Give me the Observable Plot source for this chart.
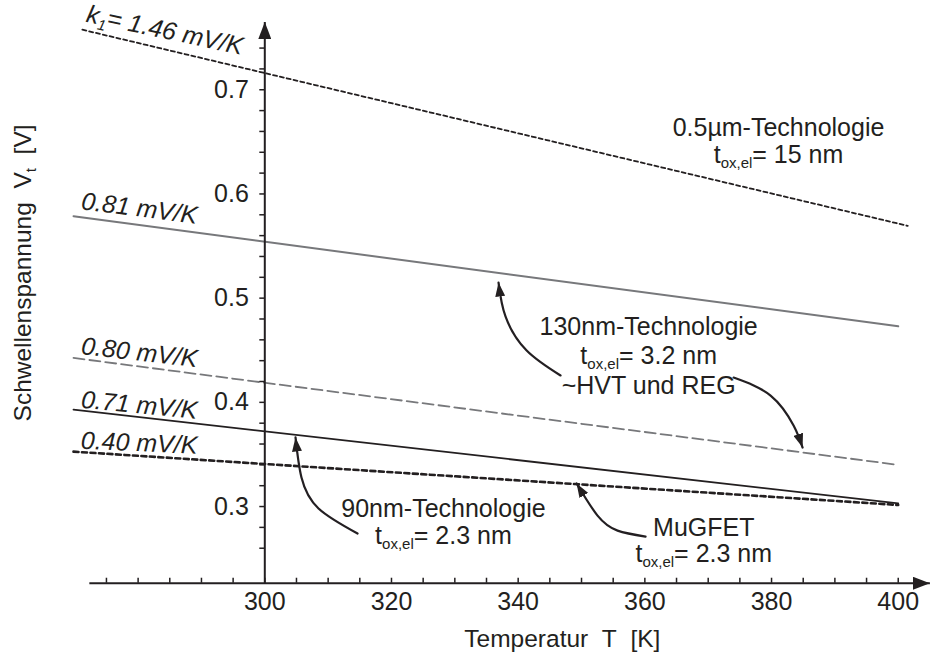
<!DOCTYPE html>
<html>
<head>
<meta charset="utf-8">
<script src="https://cdn.jsdelivr.net/npm/d3@7"></script>
<script src="https://cdn.jsdelivr.net/npm/@observablehq/plot@0.6"></script>
<style>
  html, body { margin: 0; padding: 0; background: #fff; }
  #chart svg { display: block; }
</style>
</head>
<body>
<div id="chart"></div>
<script>
// ---------------- data ----------------
const technologies = ["0.5µm-Technologie", "130nm HVT", "130nm REG", "90nm-Technologie", "MuGFET"];
const tempStart = [271.2, 269.8, 269.8, 269.8, 269.8];   // K
const tempEnd   = [401.5, 400, 400, 400, 400];           // K
const vtStart   = [0.7576, 0.5787, 0.4426, 0.3930, 0.3527]; // V
const vtEnd     = [0.5694, 0.4730, 0.3400, 0.3031, 0.3015]; // V
const slopeLabels = ["k_{1}= 1.46 mV/K", "0.81 mV/K", "0.80 mV/K", "0.71 mV/K", "0.40 mV/K"];

const xTickValues = [300, 320, 340, 360, 380, 400];
const xTickLabels = ["300", "320", "340", "360", "380", "400"];
const xMinorTicks = [275, 280, 285, 290, 295, 300, 305, 310, 315, 320, 325, 330, 335, 340, 345,
                     350, 355, 360, 365, 370, 375, 380, 385, 390, 395, 400];
const yTickValues = [0.3, 0.4, 0.5, 0.6, 0.7];
const yTickLabels = ["0.3", "0.4", "0.5", "0.6", "0.7"];
const yMinorTicks = [0.26, 0.28, 0.30, 0.32, 0.34, 0.36, 0.38, 0.40, 0.42, 0.44, 0.46, 0.48, 0.50,
                     0.52, 0.54, 0.56, 0.58, 0.60, 0.62, 0.64, 0.66, 0.68, 0.70, 0.72, 0.74];

const xTitle = "Temperatur\u00A0\u00A0T\u00A0\u00A0[K]";
const yTitle = "Schwellenspannung\u00A0\u00A0V_{t}\u00A0\u00A0[V]";

// axis geometry (data units)
const axisCrossT = 300;      // y-axis drawn at T = 300 K
const axisCrossV = 0.2264;   // x-axis drawn at this Vt
const xAxisFrom = 272.3, xAxisTo = 405;
const yAxisTo = 0.765;

// annotation texts and anchors (data units)
const notes = [
  {text: "0.5µm-Technologie\nt_{ox,el}= 15 nm", T: 381.1, V: 0.6293, lh: 1.08},
  {text: "130nm-Technologie\nt_{ox,el}= 3.2 nm\n~HVT und REG", T: 360.6, V: 0.4083, lh: 1.17},
  {text: "90nm-Technologie\nt_{ox,el}= 2.3 nm", T: 328.2, V: 0.2643, lh: 1.05},
  {text: "MuGFET\nt_{ox,el}= 2.3 nm", T: 369.3, V: 0.2466, lh: 1.03}
];
// curved pointer arrows (data units)
const pointerArrows = [
  {id: "a1", pts: [[346.69, 0.4258], [341.30, 0.4500], [338.00, 0.4824], [336.90, 0.5150]]},
  {id: "a2", pts: [[374.01, 0.4238], [379.85, 0.4065], [383.48, 0.3777], [384.90, 0.3566]]},
  {id: "a3", pts: [[314.64, 0.2741], [308.48, 0.2981], [305.79, 0.3278], [304.85, 0.3663]]},
  {id: "a4", pts: [[360.11, 0.2712], [355.69, 0.2769], [352.53, 0.2913], [349.22, 0.3221]]}
];

// ---------------- styles ----------------
const ink = "#231f20";
const axisInk = "#231f21";    // distinct tag colours so arrowheads can be attached
const pointerInk = "#231f22";
const gray = "#77787b";
const lineStyles = [
  {stroke: ink,  strokeWidth: 1.8, strokeDasharray: "4,3"},
  {stroke: gray, strokeWidth: 2.0, strokeDasharray: null},
  {stroke: gray, strokeWidth: 1.8, strokeDasharray: "11,5"},
  {stroke: ink,  strokeWidth: 1.8, strokeDasharray: null},
  {stroke: ink,  strokeWidth: 2.6, strokeDasharray: "5,3.5"}
];
const labelStyles = [
  {rotate: 12,  dx: 3, dy: -8},
  {rotate: 7.2, dx: 7, dy: -7},
  {rotate: 6.5, dx: 7, dy: -4},
  {rotate: 5.5, dx: 7, dy: -2},
  {rotate: 2.5, dx: 7, dy: -3}
];
const FS = 25;

// ---------------- tables ----------------
const rows = technologies.flatMap((tech, i) => [
  {tech, i, T: tempStart[i], V: vtStart[i]},
  {tech, i, T: tempEnd[i], V: vtEnd[i]}
]);
const arrowRows = pointerArrows.flatMap(a => a.pts.map(([T, V]) => ({id: a.id, T, V})));

const marks = [];

// data lines
technologies.forEach((tech, i) => {
  const s = lineStyles[i];
  marks.push(Plot.line(rows.filter(r => r.i === i), {
    x: "T", y: "V", stroke: s.stroke, strokeWidth: s.strokeWidth,
    ...(s.strokeDasharray ? {strokeDasharray: s.strokeDasharray} : {})
  }));
});

// slope labels
technologies.forEach((tech, i) => {
  const s = labelStyles[i];
  marks.push(Plot.text(rows.filter(r => r.i === i).slice(0, 1), {
    x: "T", y: "V", text: () => slopeLabels[i], rotate: s.rotate, dx: s.dx, dy: s.dy,
    textAnchor: "start", lineAnchor: "bottom", fontSize: FS, fontStyle: "italic", fill: ink
  }));
});

// axes lines with arrowheads
marks.push(Plot.link([
  {x1: xAxisFrom, y1: axisCrossV, x2: xAxisTo, y2: axisCrossV},
  {x1: axisCrossT, y1: axisCrossV, x2: axisCrossT, y2: yAxisTo}
], {x1: "x1", y1: "y1", x2: "x2", y2: "y2", stroke: axisInk, strokeWidth: 2}));

// minor ticks
marks.push(Plot.ruleX(xMinorTicks, {x: d => d, y1: axisCrossV, y2: axisCrossV + 5 / 1042, stroke: ink, strokeWidth: 1.5}));
marks.push(Plot.ruleY(yMinorTicks, {y: d => d, x1: axisCrossT - 5 / 6.333, x2: axisCrossT, stroke: ink, strokeWidth: 1.5}));

// tick labels
marks.push(Plot.text(xTickValues, {x: d => d, y: axisCrossV, text: (d, i) => xTickLabels[i],
  dy: 18.5, textAnchor: "middle", lineAnchor: "middle", fontSize: FS, fill: ink}));
marks.push(Plot.text(yTickValues, {x: axisCrossT, y: d => d, text: (d, i) => yTickLabels[i],
  dx: -16, textAnchor: "end", lineAnchor: "middle", fontSize: FS, fill: ink}));

// axis titles
marks.push(Plot.text([xTitle], {x: 331.5, y: 0.1656, text: d => d, textAnchor: "start",
  lineAnchor: "bottom", fontSize: 24.5, fill: ink}));
marks.push(Plot.text([yTitle], {x: 261.8, y: 0.5242, text: d => d, rotate: -90, textAnchor: "middle",
  lineAnchor: "middle", fontSize: 24.5, fill: ink}));

// annotations
notes.forEach(n => {
  marks.push(Plot.text([n], {x: "T", y: "V", text: "text", textAnchor: "middle", lineAnchor: "bottom",
    lineHeight: n.lh, fontSize: FS, fill: ink}));
});

// pointer arrows
marks.push(Plot.line(arrowRows, {x: "T", y: "V", z: "id", curve: "natural", stroke: pointerInk,
  strokeWidth: 2.2}));

const svg = Plot.plot({
  width: 931, height: 657,
  marginLeft: 42.6, marginRight: 1.6, marginTop: 5.9, marginBottom: 67.6,
  x: {domain: [265, 405], axis: null},
  y: {domain: [0.22, 0.78], axis: null},
  style: {fontFamily: "'Liberation Sans', Arial, Helvetica, sans-serif", background: "#fff", overflow: "visible", color: ink},
  marks
});

// ---------------- post-processing: subscripts + filled arrowheads ----------------
const NS = "http://www.w3.org/2000/svg";
function applySubscripts(root) {
  root.querySelectorAll("text, tspan").forEach(el => {
    Array.from(el.childNodes).forEach(node => {
      if (node.nodeType !== 3 || !node.nodeValue.includes("_{")) return;
      const parts = node.nodeValue.split(/(_\{[^}]*\})/).filter(p => p !== "");
      let shifted = false;
      parts.forEach(p => {
        const m = p.match(/^_\{([^}]*)\}$/);
        const t = document.createElementNS(NS, "tspan");
        if (m) {
          t.textContent = m[1];
          t.setAttribute("font-size", "15");
          t.setAttribute("dy", "5");
          shifted = true;
        } else {
          t.textContent = p;
          if (shifted) { t.setAttribute("dy", "-5"); shifted = false; }
        }
        el.insertBefore(t, node);
      });
      el.removeChild(node);
    });
  });
}
applySubscripts(svg);

function makeMarker(id, len, wid) {
  const m = document.createElementNS(NS, "marker");
  m.setAttribute("id", id);
  m.setAttribute("viewBox", `0 0 ${len} ${wid}`);
  m.setAttribute("refX", len);
  m.setAttribute("refY", wid / 2);
  m.setAttribute("markerWidth", len);
  m.setAttribute("markerHeight", wid);
  m.setAttribute("markerUnits", "userSpaceOnUse");
  m.setAttribute("orient", "auto");
  const p = document.createElementNS(NS, "path");
  p.setAttribute("d", `M0,0L${len},${wid / 2}L0,${wid}Z`);
  p.setAttribute("fill", ink);
  p.setAttribute("stroke", "none");
  m.appendChild(p);
  return m;
}
const defs = document.createElementNS(NS, "defs");
defs.appendChild(makeMarker("axhead", 17, 13));
defs.appendChild(makeMarker("ptrhead", 14, 10));
svg.insertBefore(defs, svg.firstChild);
function tagged(color) {
  const out = [];
  svg.querySelectorAll("g").forEach(g => {
    if ((g.getAttribute("stroke") || "").toLowerCase() === color) {
      g.querySelectorAll("path, line").forEach(p => out.push(p));
    }
  });
  return out;
}
tagged(axisInk).forEach(p => p.setAttribute("marker-end", "url(#axhead)"));
tagged(pointerInk).forEach(p => p.setAttribute("marker-end", "url(#ptrhead)"));

document.getElementById("chart").appendChild(svg);
</script>
</body>
</html>
